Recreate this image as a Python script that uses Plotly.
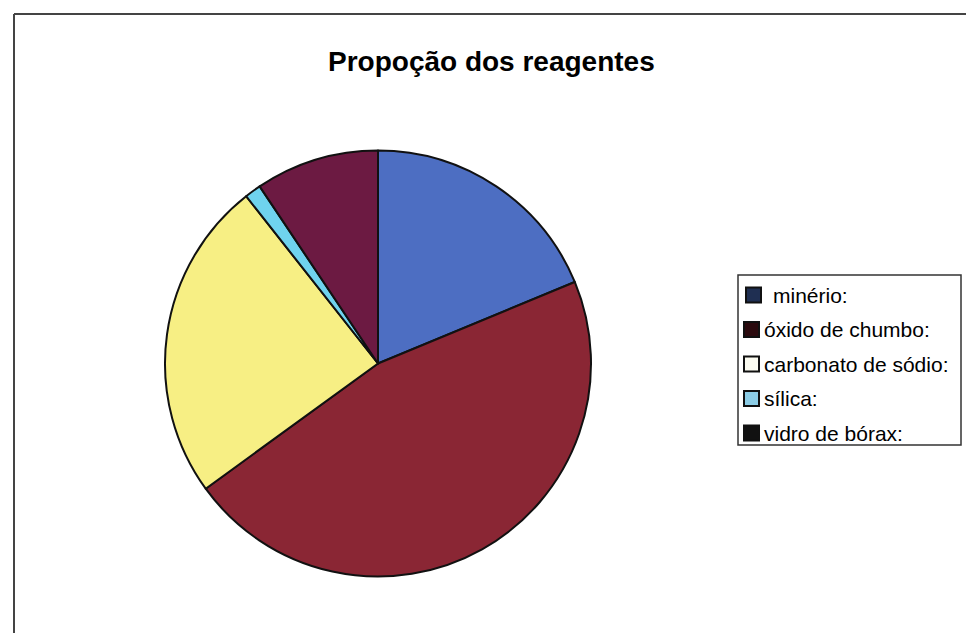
import plotly.graph_objects as go

# Reagent quantities for the fusion charge
labels = ["minério:", "óxido de chumbo:", "carbonato de sódio:", "sílica:", "vidro de bórax:"]
values = [30, 74, 39, 2, 15]
slice_colors = ["#4d6ec2", "#8a2634", "#f7ef84", "#6fd3ee", "#6c1a42"]
swatch_colors = ["#1f2f52", "#2b0a0e", "#fbfbf0", "#8ccde6", "#111111"]

W, H = 966, 633

fig = go.Figure(go.Pie(
    labels=labels,
    values=values,
    sort=False,
    direction="clockwise",
    rotation=0,
    textinfo="none",
    hoverinfo="label+value+percent",
    marker=dict(colors=slice_colors, line=dict(color="#111111", width=2)),
    domain=dict(x=[165 / W, 591 / W], y=[1 - 577 / H, 1 - 150 / H]),
    showlegend=False,
))

shapes = [
    # chart frame (top and left edges)
    dict(type="line", xref="paper", yref="paper", x0=14 / W, x1=1, y0=1 - 14 / H, y1=1 - 14 / H,
         line=dict(color="#444444", width=2)),
    dict(type="line", xref="paper", yref="paper", x0=14 / W, x1=14 / W, y0=0, y1=1 - 14 / H,
         line=dict(color="#444444", width=2)),
    # legend box
    dict(type="rect", xref="paper", yref="paper", x0=738 / W, x1=961 / W,
         y0=1 - 445 / H, y1=1 - 275 / H, line=dict(color="#333333", width=1.5),
         fillcolor="white"),
]

annotations = [
    dict(text="<b>Propoção dos reagentes</b>", xref="paper", yref="paper",
         x=492 / W, y=1 - 62 / H, xanchor="center", yanchor="middle", showarrow=False,
         font=dict(family="Liberation Sans, Arial", size=28, color="black")),
]

# legend entries
item_y0, item_step = 295, 34.5
for i, (lab, col) in enumerate(zip(labels, swatch_colors)):
    yc = item_y0 + i * item_step
    sq_x0 = 744 if i else 746
    shapes.append(dict(type="rect", xref="paper", yref="paper",
                       x0=sq_x0 / W, x1=(sq_x0 + 15) / W,
                       y0=1 - (yc + 7.5) / H, y1=1 - (yc - 7.5) / H,
                       line=dict(color="#111111", width=2), fillcolor=col))
    annotations.append(dict(text=lab, xref="paper", yref="paper",
                            x=(771 if i == 0 else 762) / W, y=1 - yc / H,
                            xanchor="left", yanchor="middle", showarrow=False,
                            font=dict(family="Liberation Sans, Arial", size=21, color="black")))

fig.update_layout(
    width=W, height=H,
    margin=dict(l=0, r=0, t=0, b=0),
    paper_bgcolor="white",
    plot_bgcolor="white",
    shapes=shapes,
    annotations=annotations,
)

fig.write_html("out.html")
